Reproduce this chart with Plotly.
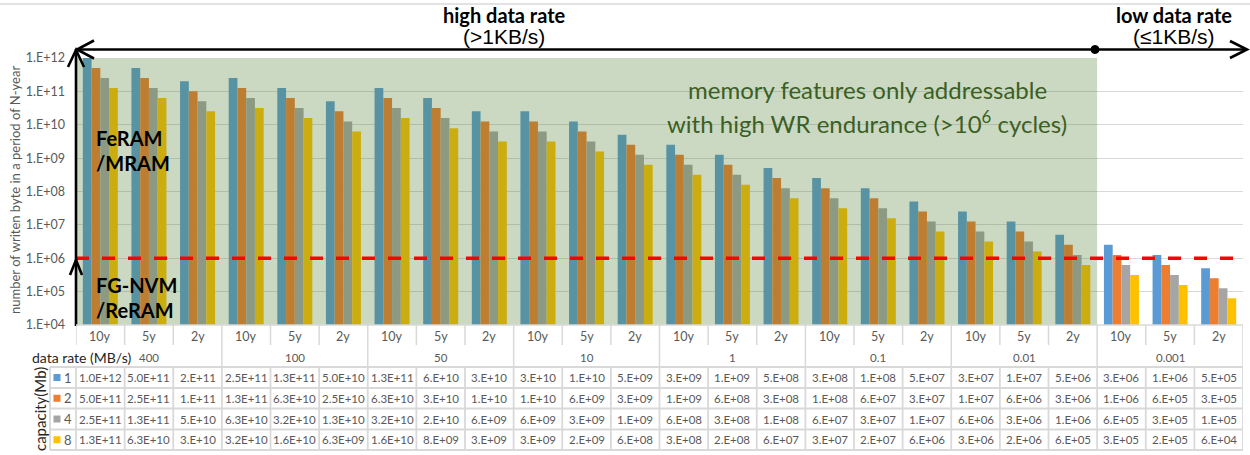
import plotly.graph_objects as go

# ---------------- data ----------------
periods = ["10y", "5y", "2y"]
data_rates = ["400", "100", "50", "10", "1", "0.1", "0.01", "0.001"]
cat_labels = ["10y", "5y", "2y"] * 8
capacities = ["1", "2", "4", "8"]

cap1 = [1.01e12, 5.05e11, 2.02e11, 2.52e11, 1.26e11, 5.05e10, 1.26e11, 6.31e10, 2.52e10,
        2.52e10, 1.26e10, 5.05e9, 2.52e9, 1.26e9, 5.05e8, 2.52e8, 1.26e8, 5.05e7,
        2.52e7, 1.26e7, 5.05e6, 2.52e6, 1.26e6, 5.05e5]
cap2 = [5.05e11, 2.52e11, 1.01e11, 1.26e11, 6.31e10, 2.52e10, 6.31e10, 3.15e10, 1.26e10,
        1.26e10, 6.31e9, 2.52e9, 1.26e9, 6.31e8, 2.52e8, 1.26e8, 6.31e7, 2.52e7,
        1.26e7, 6.31e6, 2.52e6, 1.26e6, 6.31e5, 2.52e5]
cap4 = [2.52e11, 1.26e11, 5.05e10, 6.31e10, 3.15e10, 1.26e10, 3.15e10, 1.58e10, 6.31e9,
        6.31e9, 3.15e9, 1.26e9, 6.31e8, 3.15e8, 1.26e8, 6.31e7, 3.15e7, 1.26e7,
        6.31e6, 3.15e6, 1.26e6, 6.31e5, 3.15e5, 1.26e5]
cap8 = [1.26e11, 6.31e10, 2.52e10, 3.15e10, 1.58e10, 6.31e9, 1.58e10, 7.88e9, 3.15e9,
        3.15e9, 1.58e9, 6.31e8, 3.15e8, 1.58e8, 6.31e7, 3.15e7, 1.58e7, 6.31e6,
        3.15e6, 1.58e6, 6.31e5, 3.15e5, 1.58e5, 6.31e4]

txt1 = ["1.0E+12", "5.0E+11", "2.E+11", "2.5E+11", "1.3E+11", "5.0E+10", "1.3E+11", "6.E+10", "3.E+10",
        "3.E+10", "1.E+10", "5.E+09", "3.E+09", "1.E+09", "5.E+08", "3.E+08", "1.E+08", "5.E+07",
        "3.E+07", "1.E+07", "5.E+06", "3.E+06", "1.E+06", "5.E+05"]
txt2 = ["5.0E+11", "2.5E+11", "1.E+11", "1.3E+11", "6.3E+10", "2.5E+10", "6.3E+10", "3.E+10", "1.E+10",
        "1.E+10", "6.E+09", "3.E+09", "1.E+09", "6.E+08", "3.E+08", "1.E+08", "6.E+07", "3.E+07",
        "1.E+07", "6.E+06", "3.E+06", "1.E+06", "6.E+05", "3.E+05"]
txt4 = ["2.5E+11", "1.3E+11", "5.E+10", "6.3E+10", "3.2E+10", "1.3E+10", "3.2E+10", "2.E+10", "6.E+09",
        "6.E+09", "3.E+09", "1.E+09", "6.E+08", "3.E+08", "1.E+08", "6.E+07", "3.E+07", "1.E+07",
        "6.E+06", "3.E+06", "1.E+06", "6.E+05", "3.E+05", "1.E+05"]
txt8 = ["1.3E+11", "6.3E+10", "3.E+10", "3.2E+10", "1.6E+10", "6.3E+09", "1.6E+10", "8.E+09", "3.E+09",
        "3.E+09", "2.E+09", "6.E+08", "3.E+08", "2.E+08", "6.E+07", "3.E+07", "2.E+07", "6.E+06",
        "3.E+06", "2.E+06", "6.E+05", "3.E+05", "2.E+05", "6.E+04"]

ytick_vals = [1e4, 1e5, 1e6, 1e7, 1e8, 1e9, 1e10, 1e11, 1e12]
ytick_text = ["1.E+04", "1.E+05", "1.E+06", "1.E+07", "1.E+08", "1.E+09", "1.E+10", "1.E+11", "1.E+12"]

endurance_threshold = 1e6
high_rate_groups = 7

series = [cap1, cap2, cap4, cap8]
table_rows = [txt1, txt2, txt4, txt8]
colors = ["#5B9BD5", "#ED7D31", "#A5A5A5", "#FFC000"]

# ---------------- geometry helpers ----------------
W, H = 1250, 455
ML, MR, MT, MB = 76, 7, 58, 0
PW, PH = W - ML - MR, H - MT - MB


def PX(x):
    return (x - ML) / PW


def PY(y):
    return (H - MB - y) / PH


FONT = "Lato, 'Open Sans', sans-serif"
GRAY_TXT = "#595959"
BORDER = "#D9D9D9"

n = len(cat_labels)
xs = list(range(n))

fig = go.Figure()
for name, vals, col in zip(capacities, series, colors):
    fig.add_trace(go.Bar(x=xs, y=vals, name=name, marker=dict(color=col, line=dict(width=0))))

shapes = []
annotations = []


def ann(x, y, text, size, color=GRAY_TXT, xref="paper", xanchor="center", angle=0, family=FONT):
    return dict(x=x, y=y, xref=xref, yref="paper", text=text, showarrow=False,
                xanchor=xanchor, yanchor="middle", textangle=angle,
                font=dict(family=family, size=size, color=color))


# green overlay over high data rate region
shapes.append(dict(type="rect", xref="x", yref="y domain", x0=-0.5, x1=high_rate_groups * 3 - 0.5,
                   y0=0, y1=1, fillcolor="rgba(84,130,53,0.30)", line=dict(width=0), layer="above"))
# red dashed endurance line
shapes.append(dict(type="line", xref="x", yref="y", x0=-0.5, x1=n - 0.5,
                   y0=endurance_threshold, y1=endurance_threshold,
                   line=dict(color="#FF0000", width=3.5, dash="13px,13px"), layer="above"))

# top gray border
shapes.append(dict(type="line", xref="paper", yref="paper", x0=PX(0), x1=PX(W), y0=PY(4), y1=PY(4),
                   line=dict(color=BORDER, width=1.5)))

# black arrows
BLK = dict(color="black", width=2.6)
shapes.append(dict(type="line", xref="paper", yref="paper", x0=PX(76), x1=PX(76), y0=PY(326), y1=PY(50),
                   line=BLK, layer="above"))
shapes.append(dict(type="line", xref="paper", yref="paper", x0=PX(77), x1=PX(1246), y0=PY(49.5), y1=PY(49.5),
                   line=BLK, layer="above"))


def chevron(pts):
    d = "M " + " L ".join(f"{PX(a):.5f},{PY(b):.5f}" for a, b in pts)
    return dict(type="path", xref="paper", yref="paper", path=d, line=BLK, layer="above")


shapes.append(chevron([(68, 67), (76, 50), (84, 67)]))
shapes.append(chevron([(94, 40.5), (77, 49.5), (94, 58.5)]))
shapes.append(chevron([(70, 275), (76, 260), (82, 275)]))
shapes.append(chevron([(1230, 41), (1247, 49.5), (1230, 58)]))
shapes.append(dict(type="circle", xref="paper", yref="paper", x0=PX(1091), x1=PX(1099),
                   y0=PY(53.5), y1=PY(45.5), fillcolor="black", line=dict(color="black", width=1), layer="above"))

# ---------------- table ----------------
y_axis_bottom = 325
row_cat = (325, 345)
row_rate = (345, 367)
row_edges = [367, 388, 408.5, 429.5, 450]


def bx(i):
    return i - 0.5


# x axis line
shapes.append(dict(type="line", xref="paper", yref="paper", x0=0, x1=1, y0=PY(325), y1=PY(325),
                   line=dict(color=BORDER, width=1.5)))
# category-row vertical borders
for i in range(n + 1):
    shapes.append(dict(type="line", xref="x", yref="paper", x0=bx(i), x1=bx(i),
                       y0=PY(row_cat[0]), y1=PY(row_cat[1]), line=dict(color=BORDER, width=1.5)))
# data-rate row borders at group boundaries
for g in range(1, len(data_rates) + 1):
    shapes.append(dict(type="line", xref="x", yref="paper", x0=bx(3 * g), x1=bx(3 * g),
                       y0=PY(row_rate[0]), y1=PY(row_rate[1]), line=dict(color=BORDER, width=1.5)))
# data rows horizontal borders
for ye in row_edges:
    shapes.append(dict(type="line", xref="paper", yref="paper", x0=PX(50), x1=1, y0=PY(ye), y1=PY(ye),
                       line=dict(color=BORDER, width=1.8)))
# data rows vertical borders
for xp in [PX(50), PX(76)]:
    shapes.append(dict(type="line", xref="paper", yref="paper", x0=xp, x1=xp,
                       y0=PY(row_edges[0]), y1=PY(row_edges[-1]), line=dict(color=BORDER, width=1.8)))
for i in range(1, n + 1):
    shapes.append(dict(type="line", xref="x", yref="paper", x0=bx(i), x1=bx(i),
                       y0=PY(row_edges[0]), y1=PY(row_edges[-1]), line=dict(color=BORDER, width=1.8)))

# category labels
for i, lab in enumerate(cat_labels):
    annotations.append(ann(i, PY(336), lab, 12.5, xref="x"))
# data rate labels
for g, r in enumerate(data_rates):
    annotations.append(ann(3 * g + 1, PY(357), r, 11.5, xref="x"))
annotations.append(ann(PX(30), PY(357), "data rate (MB/s)", 14, color="#262626", xanchor="left"))
annotations.append(ann(PX(40), PY(409), "capacity(Mb)", 15, color="#262626", angle=-90))
# data rows
for r, (cap, txts, col) in enumerate(zip(capacities, table_rows, colors)):
    yc = (row_edges[r] + row_edges[r + 1]) / 2
    shapes.append(dict(type="rect", xref="paper", yref="paper", x0=PX(53.5), x1=PX(60.5),
                       y0=PY(yc + 3.5), y1=PY(yc - 3.5), fillcolor=col, line=dict(width=0)))
    annotations.append(ann(PX(68), PY(yc), cap, 13))
    for i, t in enumerate(txts):
        annotations.append(ann(i, PY(yc), t, 11.5, xref="x"))

# ---------------- text labels ----------------
GREEN_TXT = "#3B5F24"
annotations += [
    ann(PX(15), PY(190), "number of writen byte in a period of N-year", 13, angle=-90),
    ann(PX(504), PY(15), "<b>high data rate</b>", 20, color="black"),
    ann(PX(504), PY(37), "(>1KB/s)", 21, color="black", family="Liberation Sans, Arial"),
    ann(PX(1174), PY(15), "<b>low data rate</b>", 20, color="black"),
    ann(PX(1174), PY(37), "(≤1KB/s)", 21, color="black", family="Liberation Sans, Arial"),
    ann(PX(867), PY(89), "memory features only addressable", 24, color=GREEN_TXT),
    ann(PX(867), PY(122), "with high WR endurance (>10<sup>6</sup> cycles)", 24, color=GREEN_TXT),
    ann(PX(94), PY(138), "<b>FeRAM</b>", 20, color="black", xanchor="left"),
    ann(PX(94), PY(163), "<b>/MRAM</b>", 20, color="black", xanchor="left"),
    ann(PX(94), PY(285), "<b>FG-NVM</b>", 20, color="black", xanchor="left"),
    ann(PX(94), PY(310), "<b>/ReRAM</b>", 20, color="black", xanchor="left"),
]

fig.update_layout(
    width=W, height=H,
    margin=dict(l=ML, r=MR, t=MT, b=MB, autoexpand=False),
    paper_bgcolor="white", plot_bgcolor="white",
    barmode="group", bargap=0.28, bargroupgap=0,
    showlegend=False,
    shapes=shapes, annotations=annotations,
    font=dict(family=FONT),
    xaxis=dict(range=[-0.5, n - 0.5], showticklabels=False, showgrid=False, zeroline=False, ticks=""),
    yaxis=dict(type="log", range=[4, 12], domain=[PY(y_axis_bottom), 1],
               tickvals=ytick_vals, ticktext=ytick_text, showgrid=True, gridcolor=BORDER, gridwidth=1.2,
               zeroline=False, ticks="", ticklabelstandoff=10,
               tickfont=dict(family=FONT, size=12.5, color=GRAY_TXT)),
)

fig.write_html("out.html", config={"displayModeBar": False},
               post_script="document.body.style.margin='0px';document.body.style.overflow='hidden';")
